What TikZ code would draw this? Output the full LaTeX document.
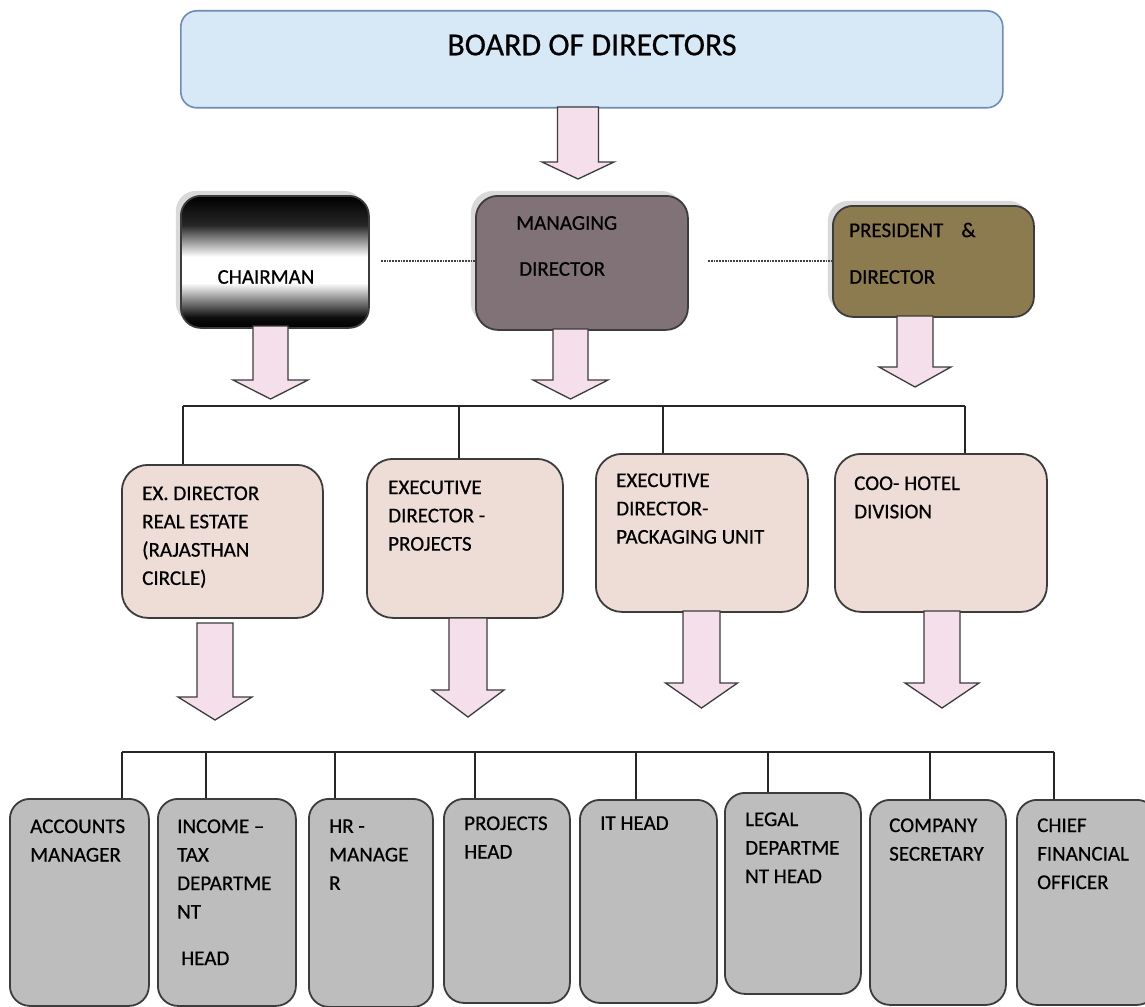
\documentclass[tikz,border=0pt]{standalone}
\usepackage{fontspec}
\setmainfont{Carlito}
\newfontfamily\heavyfont{Carlito}[FakeBold=0.6]
\usetikzlibrary{shadows}
\definecolor{boardfill}{HTML}{D7E8F6}
\definecolor{boardline}{HTML}{6E8DB5}
\definecolor{mdfill}{HTML}{807276}
\definecolor{presfill}{HTML}{8D7B50}
\definecolor{rowtwo}{HTML}{EDDDD6}
\definecolor{rowthree}{HTML}{BDBDBD}
\definecolor{arrowfill}{HTML}{F4DFEB}
\definecolor{edge}{HTML}{3C3C3C}
\pgfdeclareverticalshading{chairshade}{100bp}{color(0bp)=(black); color(25bp)=(black); color(29bp)=(black!95); color(42bp)=(white); color(52bp)=(white); color(64bp)=(black!85); color(75bp)=(black); color(100bp)=(black)}
\newcommand\blockarr[6]{% cx, top, head start, tip, shaft half width, head half width
  \draw[arr] ({#1-#5},#2) -- ({#1-#5},#3) -- ({#1-#6},#3) -- (#1,#4) -- ({#1+#6},#3) -- ({#1+#5},#3) -- ({#1+#5},#2) -- cycle;}
\begin{document}
\begin{tikzpicture}[x=1pt,y=-1pt,
  box/.style={draw=edge, line width=1.8pt, rounded corners=#1, anchor=north west, inner sep=0pt},
  box/.default=18pt,
  txt/.style={anchor=north west, align=left, inner sep=0pt, font=\heavyfont\fontsize{21}{28.3}\selectfont, text=black},
  arr/.style={fill=arrowfill, draw=edge, line width=1.3pt, line join=miter},
  bus/.style={draw=black!85, line width=1.6pt},
  dots/.style={draw=black!75, line width=2.2pt, dash pattern=on 1.8pt off 1pt},
  shd/.style={general shadow={shadow xshift=-5pt, shadow yshift=5pt, fill=black, opacity=0.15}}
]
\useasboundingbox (0,0) rectangle (1145,1006);
\fill[white] (0,0) rectangle (1145,1006);

% Board
\node[box=16pt, fill=boardfill, draw=boardline, line width=1.6pt, minimum width=822pt, minimum height=97pt] (board) at (180,10) {};
\node[font=\heavyfont\fontsize{32}{36}\selectfont, inner sep=0pt, text=black] (boardT) at (592,45) {BOARD OF DIRECTORS};

% Middle row
\node[box=20pt, shd, shade, shading=chairshade, minimum width=188pt, minimum height=132pt] (ch) at (180,195) {};
\node[box=22pt, shd, fill=mdfill, minimum width=212pt, minimum height=134pt] (md) at (475,195) {};
\node[box=20pt, shd, fill=presfill, minimum width=201pt, minimum height=111pt] (pr) at (832,205) {};
\node[txt, anchor=center] (chT) at (266,277) {CHAIRMAN};
\node[txt, anchor=west] (mdT1) at (516,223) {MANAGING};
\node[txt, anchor=west] (mdT2) at (519,269) {DIRECTOR};
\node[txt, anchor=west] (prT1) at (849,230) {PRESIDENT\hspace{18pt}\&};
\node[txt, anchor=west] (prT2) at (849,277) {DIRECTOR};

\coordinate (d1) at (381,261);
\coordinate (d2) at (708,261);
\draw[dots] (d1) -- (d1 -| md.west);
\draw[dots] (d2) -- (d2 -| pr.west);

% Row 2
\node[box=26pt, fill=rowtwo, minimum width=201pt, minimum height=153pt] (ex) at (121,464) {};
\node[box=26pt, fill=rowtwo, minimum width=196pt, minimum height=159pt] (proj) at (366,458) {};
\node[box=26pt, fill=rowtwo, minimum width=212pt, minimum height=158pt] (pack) at (595,453) {};
\node[box=26pt, fill=rowtwo, minimum width=212pt, minimum height=158pt] (coo) at (834,453) {};
\node[txt] (exT) at (142,486.2) {EX. DIRECTOR\\REAL ESTATE\\(RAJASTHAN\\CIRCLE)};
\node[txt] (projT) at (388,480.2) {EXECUTIVE\\DIRECTOR -\\PROJECTS};
\node[txt] (packT) at (616,473.2) {EXECUTIVE\\DIRECTOR-\\PACKAGING UNIT};
\node[txt] (cooT) at (854,476.2) {COO- HOTEL\\DIVISION};

% Row 2 bus
\coordinate (b2a) at (183,406);
\coordinate (b2b) at (459,406);
\coordinate (b2c) at (663,406);
\coordinate (b2d) at (965,406);
\draw[bus] (b2a) -- (b2d);
\draw[bus] (b2a) -- (b2a |- ex.north);
\draw[bus] (b2b) -- (b2b |- proj.north);
\draw[bus] (b2c) -- (b2c |- pack.north);
\draw[bus] (b2d) -- (b2d |- coo.north);

% Row 3
\node[box=20pt, fill=rowthree, minimum width=139pt, minimum height=207pt] (acc) at (9,798) {};
\node[box=20pt, fill=rowthree, minimum width=138pt, minimum height=207pt] (inc) at (157,798) {};
\node[box=20pt, fill=rowthree, minimum width=124pt, minimum height=208pt] (hr) at (308,798) {};
\node[box=20pt, fill=rowthree, minimum width=126pt, minimum height=204pt] (prj) at (443,798) {};
\node[box=20pt, fill=rowthree, minimum width=137pt, minimum height=203pt] (it) at (579,799) {};
\node[box=20pt, fill=rowthree, minimum width=136pt, minimum height=201pt] (leg) at (724,792) {};
\node[box=20pt, fill=rowthree, minimum width=136pt, minimum height=205pt] (cs) at (869,799) {};
\node[box=20pt, fill=rowthree, minimum width=140pt, minimum height=205pt] (cfo) at (1016,799) {};

\begin{scope}[txt/.append style={font=\heavyfont\fontsize{21}{28.5}\selectfont}]
\node[txt] (accT) at (30,819.2) {ACCOUNTS\\MANAGER};
\node[txt] (incT) at (177,819.2) {INCOME –\\TAX\\DEPARTME\\NT\\[18pt]\hspace{4pt}HEAD};
\node[txt] (hrT) at (329,819.2) {HR -\\MANAGE\\R};
\node[txt] (prjT) at (464,816.2) {PROJECTS\\HEAD};
\node[txt] (itT) at (600,816.2) {IT HEAD};
\node[txt] (legT) at (745,812.2) {LEGAL\\DEPARTME\\NT HEAD};
\node[txt] (csT) at (889,818.2) {COMPANY\\SECRETARY};
\node[txt] (cfoT) at (1037,818.2) {CHIEF\\FINANCIAL\\OFFICER};
\end{scope}

% Row 3 bus
\coordinate (b3a) at (122,752);
\coordinate (b3b) at (206,752);
\coordinate (b3c) at (335,752);
\coordinate (b3d) at (475,752);
\coordinate (b3e) at (636,752);
\coordinate (b3f) at (768,752);
\coordinate (b3g) at (930,752);
\coordinate (b3h) at (1054,752);
\draw[bus] (b3a) -- (b3h);
\draw[bus] (b3a) -- (b3a |- acc.north);
\draw[bus] (b3b) -- (b3b |- inc.north);
\draw[bus] (b3c) -- (b3c |- hr.north);
\draw[bus] (b3d) -- (b3d |- prj.north);
\draw[bus] (b3e) -- (b3e |- it.north);
\draw[bus] (b3f) -- (b3f |- leg.north);
\draw[bus] (b3g) -- (b3g |- cs.north);
\draw[bus] (b3h) -- (b3h |- cfo.north);

% Block arrows
\blockarr{578}{107}{162}{179}{20.5}{36}
\blockarr{270.5}{326}{380}{399}{17.5}{37.5}
\blockarr{570.5}{329}{380}{399}{17.5}{37.5}
\blockarr{915}{316}{367}{387}{18}{36}
\blockarr{215}{623}{697}{720}{18}{37}
\blockarr{468}{618}{690}{717}{19}{36}
\blockarr{701.5}{611}{683}{708}{18.5}{36}
\blockarr{942}{611}{683}{708}{18}{37}
\end{tikzpicture}
\end{document}
